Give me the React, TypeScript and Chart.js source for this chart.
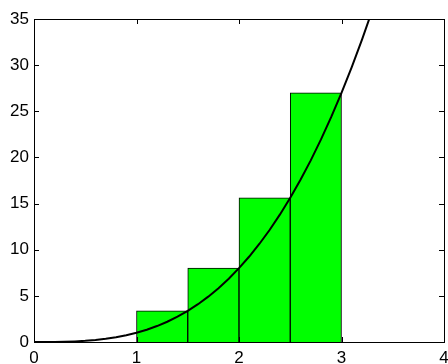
import React, { useEffect, useRef } from "react";
import { Chart, registerables } from "chart.js";

Chart.register(...registerables);

const barCenters = [1.25, 1.75, 2.25, 2.75];
const barHeights = [3.375, 8, 15.625, 27];
const curveX = [0, 0.1, 0.2, 0.3, 0.4, 0.5, 0.6, 0.7, 0.8, 0.9, 1, 1.1, 1.2, 1.3, 1.4, 1.5, 1.6, 1.7, 1.8, 1.9, 2, 2.1, 2.2, 2.3, 2.4, 2.5, 2.6, 2.7, 2.8, 2.9, 3, 3.1, 3.2, 3.3];
const curveY = [0, 0.001, 0.008, 0.027, 0.064, 0.125, 0.216, 0.343, 0.512, 0.729, 1, 1.331, 1.728, 2.197, 2.744, 3.375, 4.096, 4.913, 5.832, 6.859, 8, 9.261, 10.648, 12.167, 13.824, 15.625, 17.576, 19.683, 21.952, 24.389, 27, 29.791, 32.768, 35.937];
const xTicks = [0, 1, 2, 3, 4];
const yTicks = [0, 5, 10, 15, 20, 25, 30, 35];

const framePlugin = {
  id: "frame",
  afterDraw(chart: any) {
    const { ctx, chartArea: a, scales } = chart;
    ctx.save();
    ctx.strokeStyle = "#000";
    ctx.lineWidth = 1;
    ctx.strokeRect(Math.round(a.left) + 0.5, Math.round(a.top) + 0.5, Math.round(a.right - a.left), Math.round(a.bottom - a.top));
    const t = 5;
    ctx.beginPath();
    xTicks.forEach((v) => {
      const x = Math.round(scales.x.getPixelForValue(v)) + 0.5;
      ctx.moveTo(x, a.bottom);
      ctx.lineTo(x, a.bottom - t);
      ctx.moveTo(x, a.top);
      ctx.lineTo(x, a.top + t);
    });
    yTicks.forEach((v) => {
      const y = Math.round(scales.y.getPixelForValue(v)) + 0.5;
      ctx.moveTo(a.left, y);
      ctx.lineTo(a.left + t, y);
      ctx.moveTo(a.right, y);
      ctx.lineTo(a.right - t, y);
    });
    ctx.stroke();
    ctx.restore();
  },
};

export default function App() {
  const ref = useRef<HTMLCanvasElement>(null);
  useEffect(() => {
    const chart = new Chart(ref.current!, {
      type: "bar",
      data: {
        datasets: [
          {
            type: "bar",
            data: barCenters.map((x, i) => ({ x, y: barHeights[i] })),
            backgroundColor: "#00ff00",
            borderColor: "#000",
            borderWidth: 1,
            barPercentage: 1,
            categoryPercentage: 1,
            order: 1,
          } as any,
          {
            type: "line",
            data: curveX.map((x, i) => ({ x, y: curveY[i] })),
            borderColor: "#000",
            borderWidth: 2,
            pointRadius: 0,
            tension: 0,
            fill: false,
            order: 0,
          } as any,
        ],
      },
      options: {
        animation: false,
        responsive: false,
        events: [],
        layout: { padding: { top: 19, right: 4, left: 0, bottom: 0 } },
        plugins: { legend: { display: false }, tooltip: { enabled: false } },
        scales: {
          x: {
            type: "linear",
            min: 0,
            max: 4,
            offset: false,
            grid: { display: false, drawTicks: false },
            border: { display: false },
            afterBuildTicks: (s: any) => { s.ticks = xTicks.map((v) => ({ value: v })); },
            ticks: { color: "#000", font: { family: "Liberation Sans, Arial", size: 17 }, padding: 6, maxRotation: 0 },
            afterFit: (s: any) => { s.height = 22; s.paddingLeft = 0; s.paddingRight = 0; },
          },
          y: {
            min: 0,
            max: 35,
            grid: { display: false, drawTicks: false },
            border: { display: false },
            afterBuildTicks: (s: any) => { s.ticks = yTicks.map((v) => ({ value: v })); },
            ticks: { color: "#000", font: { family: "Liberation Sans, Arial", size: 17 }, padding: 5 },
            afterFit: (s: any) => { s.width = 34; s.paddingTop = 0; s.paddingBottom = 0; },
          },
        },
      },
      plugins: [framePlugin],
    } as any);
    return () => chart.destroy();
  }, []);
  return (
    <div style={{ position: "fixed", left: 0, top: 0, width: 448, height: 364, background: "#fff" }}>
      <canvas ref={ref} width={448} height={364} style={{ display: "block" }} />
    </div>
  );
}
